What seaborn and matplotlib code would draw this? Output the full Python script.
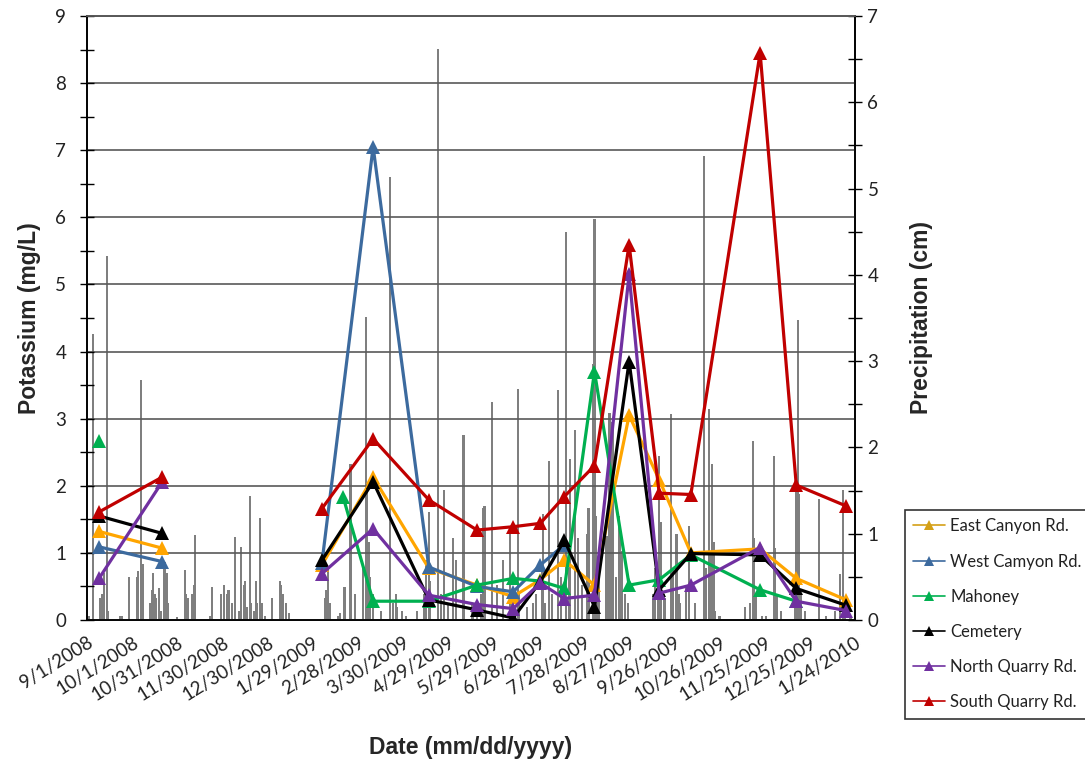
import matplotlib
matplotlib.use("Agg")
import matplotlib.pyplot as plt
from matplotlib.lines import Line2D
from matplotlib.ticker import MultipleLocator
import seaborn as sns
import pandas as pd
import numpy as np

# ---------------- data ----------------
sample_dates = ["2008-09-09", "2008-10-21", "2009-02-04", "2009-02-18", "2009-03-10",
                "2009-04-16", "2009-05-18", "2009-06-11", "2009-06-29", "2009-07-15",
                "2009-08-04", "2009-08-27", "2009-09-16", "2009-10-07", "2009-11-22",
                "2009-12-16", "2010-01-18"]
segment = [0, 0, 1, 1, 1, 1, 1, 1, 1, 1, 1, 1, 1, 1, 1, 1, 1]
nan = np.nan
east_canyon = [1.32, 1.07, 0.82, nan, 2.13, 0.77, 0.52, 0.35, 0.60, 0.89, 0.52, 3.05, 2.09, 1.00, 1.06, 0.62, 0.30]
west_camyon = [1.09, 0.87, 0.85, nan, 7.05, 0.79, 0.50, 0.42, 0.82, 1.12, nan, nan, nan, nan, nan, nan, nan]
mahoney = [2.67, nan, nan, 1.84, 0.28, 0.28, 0.52, 0.62, 0.58, 0.47, 3.70, 0.52, 0.60, 0.97, 0.45, 0.28, nan]
cemetery = [1.55, 1.29, 0.89, nan, 2.06, 0.30, 0.15, 0.03, 0.57, 1.19, 0.20, 3.85, 0.45, 0.99, 0.97, 0.47, 0.22]
north_quarry = [0.62, 2.06, 0.69, nan, 1.36, 0.37, 0.23, 0.17, 0.55, 0.32, 0.37, 5.15, 0.40, 0.52, 1.08, 0.28, 0.14]
south_quarry = [1.61, 2.13, 1.66, nan, 2.70, 1.79, 1.34, 1.39, 1.44, 1.84, 2.30, 5.59, 1.89, 1.87, 8.45, 2.01, 1.70]

site_names = ["East Canyon Rd.", "West Camyon Rd.", "Mahoney", "Cemetery",
              "North Quarry Rd.", "South Quarry Rd."]
site_colors = ["#FFA500", "#3C6A9E", "#00B050", "#000000", "#7030A0", "#C00000"]
legend_colors = ["#D4A017", "#3C6A9E", "#00B050", "#000000", "#7030A0", "#C00000"]

# daily precipitation (days after 9/1/2008, cm)
precip_day = [1, 4, 9, 10, 11, 13, 14, 22, 23, 28, 33, 34, 36, 37, 42, 43, 44, 45, 46, 48, 49,
              51, 52, 53, 54, 60, 65, 66, 67, 70, 71, 72, 82, 83, 89, 91, 93, 94, 96, 98, 101,
              102, 104, 105, 106, 108, 109, 111, 112, 113, 115, 116, 118, 123, 128, 129, 130,
              132, 134, 158, 159, 160, 161, 167, 168, 171, 175, 178, 183, 185, 186, 187, 188,
              190, 195, 201, 203, 205, 206, 209, 212, 219, 224, 225, 227, 228, 233, 235, 237,
              240, 243, 245, 250, 256, 259, 262, 263, 264, 269, 272, 276, 281, 282, 286, 287,
              292, 296, 298, 302, 303, 304, 307, 309, 313, 315, 318, 320, 321, 324, 326, 329,
              332, 333, 336, 337, 338, 339, 340, 345, 347, 349, 351, 353, 354, 355, 357, 359,
              376, 377, 379, 380, 381, 383, 384, 388, 389, 391, 392, 393, 394, 398, 400, 404,
              410, 411, 413, 414, 415, 416, 417, 420, 437, 440, 442, 443, 444, 448, 451, 456,
              457, 458, 461, 470, 471, 472, 473, 474, 477, 486, 491, 497, 500, 502, 503, 507]
precip_cm = [0.05, 3.32, 0.25, 0.30, 0.55, 4.22, 0.10, 0.05, 0.05, 0.50, 0.50, 0.57, 2.78, 0.65,
             0.20, 0.35, 0.54, 0.30, 0.25, 0.37, 0.10, 0.60, 0.67, 0.55, 0.20, 0.03, 0.58, 0.30,
             0.26, 0.30, 0.40, 0.99, 0.05, 0.38, 0.30, 0.40, 0.30, 0.35, 0.20, 0.96, 0.10, 0.85,
             0.40, 0.45, 0.15, 1.44, 0.20, 0.10, 0.45, 0.20, 1.18, 0.20, 0.05, 0.26, 0.45, 0.40,
             0.30, 0.20, 0.08, 0.26, 0.35, 0.58, 0.20, 0.05, 0.08, 0.38, 1.81, 0.30, 0.60, 3.51,
             1.55, 0.90, 0.50, 0.30, 0.10, 5.13, 0.20, 0.30, 0.15, 0.10, 0.05, 0.10, 0.30, 0.70,
             1.25, 0.45, 6.62, 0.30, 1.51, 0.20, 0.95, 0.69, 2.14, 0.20, 0.10, 0.30, 1.30, 1.32,
             2.53, 0.41, 0.69, 1.00, 0.30, 2.68, 0.30, 0.15, 0.20, 0.30, 0.60, 1.23, 0.20, 1.84,
             0.30, 2.66, 0.50, 4.50, 0.60, 1.87, 2.20, 0.95, 0.40, 1.00, 1.30, 2.97, 4.65, 1.20,
             0.60, 0.80, 0.97, 2.40, 2.30, 0.50, 1.20, 1.00, 0.80, 0.30, 0.20, 0.30, 0.60, 0.40,
             1.90, 1.13, 0.30, 0.25, 2.39, 0.60, 1.00, 1.00, 0.30, 0.20, 0.40, 1.09, 0.20, 5.38,
             0.60, 2.44, 0.80, 1.81, 0.90, 0.10, 0.05, 0.15, 0.20, 2.08, 0.95, 0.30, 0.05, 0.05,
             1.90, 0.83, 0.30, 0.10, 0.40, 1.60, 3.48, 1.46, 0.30, 0.10, 1.40, 0.05, 0.10, 0.53,
             1.51, 0.10, 0.05]

x_start = "2008-09-01"
x_end = "2010-01-24"
tick_labels = ["9/1/2008", "10/1/2008", "10/31/2008", "11/30/2008", "12/30/2008", "1/29/2009",
               "2/28/2009", "3/30/2009", "4/29/2009", "5/29/2009", "6/28/2009", "7/28/2009",
               "8/27/2009", "9/26/2009", "10/26/2009", "11/25/2009", "12/25/2009", "1/24/2010"]

# ---------------- build frames ----------------
series = [east_canyon, west_camyon, mahoney, cemetery, north_quarry, south_quarry]
rows = []
for name, vals in zip(site_names, series):
    for d, s, v in zip(sample_dates, segment, vals):
        if not np.isnan(v):
            rows.append({"date": pd.Timestamp(d), "site": name, "seg": s, "K": v})
df = pd.DataFrame(rows)

p_dates = pd.Timestamp(x_start) + pd.to_timedelta(precip_day, unit="D")

# ---------------- plot ----------------
sns.set_theme(style="white")
plt.rcParams["font.family"] = ["Lato", "DejaVu Sans"]

fig = plt.figure(figsize=(10.85, 7.63), dpi=100)
ax = fig.add_axes([87 / 1085, 1 - 620 / 763, (855 - 87) / 1085, (620 - 16) / 763])
ax2 = ax.twinx()
ax.set_zorder(ax2.get_zorder() + 1)
ax.patch.set_visible(False)
ax2.set_facecolor("white")

ax2.bar(p_dates, precip_cm, width=1.4, color="#7F7F7F", linewidth=0, zorder=2)

sns.lineplot(data=df, x="date", y="K", hue="site", units="seg", estimator=None,
             hue_order=site_names, palette=dict(zip(site_names, site_colors)),
             marker="^", markersize=10, markeredgewidth=0, linewidth=2.3,
             legend=False, ax=ax, sort=True)

ax.set_ylim(0, 9)
ax2.set_ylim(0, 7)
ax.set_xlim(pd.Timestamp(x_start), pd.Timestamp(x_end))
ticks = pd.date_range(x_start, periods=len(tick_labels), freq="30D")
ax.set_xticks(ticks)
ax.set_xticklabels(tick_labels, rotation=32, ha="right", rotation_mode="anchor",
                   fontsize=13.5, color="#222222")
ax.tick_params(axis="x", length=0, pad=10)

ax.yaxis.set_major_locator(MultipleLocator(1))
ax.yaxis.set_minor_locator(MultipleLocator(0.5))
ax.tick_params(axis="y", which="both", direction="inout", length=10, width=1,
               color="black", labelsize=13.5, labelcolor="#222222", pad=10, left=True)
ax2.yaxis.set_major_locator(MultipleLocator(1))
ax2.yaxis.set_minor_locator(MultipleLocator(0.5))
ax2.tick_params(axis="y", which="both", direction="inout", length=10, width=1,
                color="black", labelsize=13.5, labelcolor="#222222", pad=4, right=True)

ax.grid(axis="y", which="major", color="#595959", linewidth=1.2)
ax.grid(axis="x", visible=False)
ax2.grid(False)

for a in (ax, ax2):
    for side in ("left", "right", "bottom"):
        a.spines[side].set_color("black")
        a.spines[side].set_linewidth(1.2)
    a.spines["top"].set_color("#595959")

ax.set_xlabel("Date (mm/dd/yyyy)", fontsize=16.5, fontweight="bold",
              family=["Liberation Sans", "DejaVu Sans"], labelpad=23)
ax.set_ylabel("Potassium (mg/L)", fontsize=16.5, fontweight="bold",
              family=["Liberation Sans", "DejaVu Sans"], labelpad=10)
ax2.set_ylabel("Precipitation (cm)", fontsize=16.5, fontweight="bold",
               family=["Liberation Sans", "DejaVu Sans"], labelpad=23)

handles = [Line2D([0], [0], color=c, lw=1.2, marker="^", markersize=7, markeredgewidth=0)
           for c in legend_colors]
leg = fig.legend(handles, site_names, loc="upper left",
                 bbox_to_anchor=(905 / 1085, 1 - 510 / 763), frameon=True, fancybox=False,
                 edgecolor="black", fontsize=12, labelspacing=1.15, handlelength=1.9,
                 handletextpad=0.3, borderpad=0.5, borderaxespad=0)
leg.get_frame().set_linewidth(1.2)
for t in leg.get_texts():
    t.set_color("#222222")

fig.savefig("out.png", dpi=100)
